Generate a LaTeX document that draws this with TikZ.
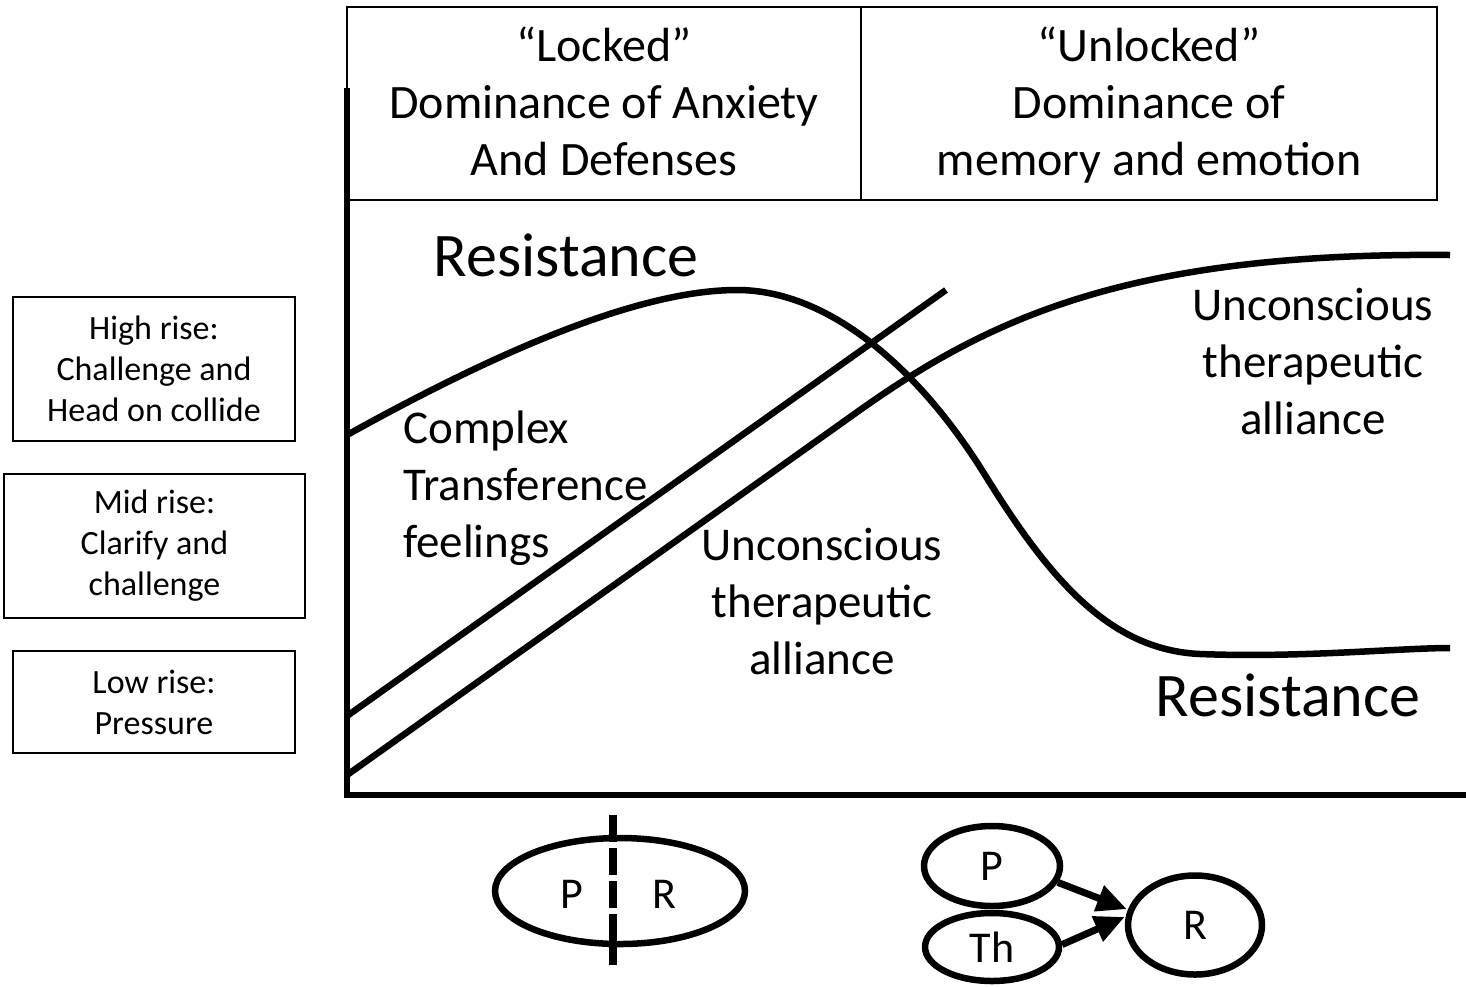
\documentclass[tikz,border=0pt]{standalone}
\usepackage{fontspec}
\setmainfont{Carlito}
\usetikzlibrary{shapes.geometric,arrows.meta}
\begin{document}
\begin{tikzpicture}[x=1pt,y=-1pt,
  axisline/.style={line width=6pt},
  curveline/.style={line width=6.5pt},
  cell/.style={draw, line width=2pt, inner sep=0pt, minimum height=193pt},
  hdr/.style={font=\fontsize{48}{57}\selectfont, align=center, anchor=base, inner sep=0pt},
  side/.style={draw, line width=2pt, inner sep=0pt, align=center, font=\fontsize{34}{41}\selectfont},
  big/.style={font=\fontsize{62}{70}\selectfont, anchor=base, inner sep=0pt},
  mid/.style={font=\fontsize{47}{57}\selectfont, anchor=base, inner sep=0pt},
  oval/.style={draw, ellipse, line width=6.5pt, inner sep=0pt, font=\fontsize{44}{50}\selectfont},
  arr/.style={line width=7pt, -{Triangle[length=30pt,width=26pt]}, shorten >=1pt}
]
\useasboundingbox (0,0) rectangle (1466,986);
\fill[white] (0,0) rectangle (1466,986);

% header cells
\node[cell, minimum width=514pt] (c1) at (604,103.5) {};
\node[cell, minimum width=576pt] (c2) at (1149,103.5) {};
\node[hdr] (t1) at (604,175) {“Locked”\\Dominance of Anxiety\\And Defenses};
\node[hdr] (t2) at (1149,175) {“Unlocked”\\Dominance of\\memory and emotion};

% axes
\coordinate (ytop) at (347,88);
\coordinate (orig) at (347,795);
\coordinate (xend) at (1466,795);
\draw[axisline] (ytop) -- (347,798);
\draw[axisline] (344,795) -- (xend);

% left boxes
\node[side, minimum width=282pt, minimum height=144pt] (b1) at (154,369) {High rise:\\Challenge and\\Head on collide};
\node[side, minimum width=301pt, minimum height=144pt] (b2) at (154.5,546) {Mid rise:\\Clarify and\\challenge};
\node[side, minimum width=282pt, minimum height=102pt] (b3) at (154,702) {Low rise:\\Pressure};

% curves
\coordinate (r0) at (347,435);
\coordinate (r1) at (1450,648);
\draw[curveline] (r0) .. controls (500,350) and (640,290) .. (737,290)
  .. controls (830,290) and (920,370) .. (985,475)
  .. controls (1050,580) and (1110,650) .. (1200,654)
  .. controls (1300,658) and (1400,648) .. (r1);
\coordinate (ct0) at (347,716);
\coordinate (ct1) at (946,290);
\draw[curveline] (ct0) -- (ct1);
\coordinate (ua0) at (347,775);
\coordinate (ua1) at (1450,255);
\draw[curveline] (ua0) -- (860,410) .. controls (990,318) and (1130,252) .. (ua1);

% labels
\node[big] (res1) at (566,276) {Resistance};
\node[big] (res2) at (1288,716) {Resistance};
\node[mid, align=left, anchor=base west] (ctf) at (403,557) {Complex\\Transference\\feelings};
\node[mid, align=center] (ua) at (822,674) {Unconscious\\therapeutic\\alliance};
\node[mid, align=center] (ub) at (1313,434) {Unconscious\\therapeutic\\alliance};

% bottom left ellipse
\node[oval, minimum width=250pt, minimum height=106pt] (pr) at (620,891) {};
\node[font=\fontsize{44}{50}\selectfont, inner sep=0pt] (pl) at (572,894) {P};
\node[font=\fontsize{44}{50}\selectfont, inner sep=0pt] (rl) at (664,894) {R};
\coordinate (dtop) at (613,815);
\coordinate (dbot) at (613,965);
\draw[line width=8pt, dash pattern=on 27pt off 6pt] (dtop) -- (dbot);

% bottom right
\node[oval, minimum width=136pt, minimum height=80pt] (P) at (992,866) {P};
\node[oval, minimum width=134pt, minimum height=68pt] (Th) at (992,947) {Th};
\node[oval, minimum width=134pt, minimum height=99pt] (R) at (1195,925) {R};
\draw[arr] (P.-14) -- (R.167);
\draw[arr] (Th.2) -- (R.173);
\end{tikzpicture}
\end{document}
